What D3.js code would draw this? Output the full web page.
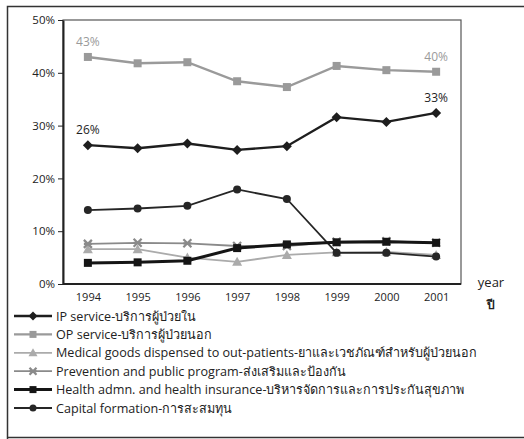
<!DOCTYPE html>
<html><head><meta charset="utf-8">
<script src="https://cdn.jsdelivr.net/npm/d3@7"></script>
<style>
body{margin:0;background:#fff;}
text{font-family:"Open Sans","Noto Sans",sans-serif;}
</style></head>
<body><svg id="c" width="524" height="439"></svg>
<script>
const years = ["1994","1995","1996","1997","1998","1999","2000","2001"];
const yTicks = [0,10,20,30,40,50];
const ipService = [26.3,25.7,26.6,25.4,26.1,31.6,30.7,32.4];
const opService = [43.0,41.8,42.0,38.4,37.3,41.3,40.5,40.2];
const medicalGoods = [6.6,6.6,5.0,4.2,5.5,6.0,6.1,5.5];
const prevention = [7.6,7.8,7.7,7.2,7.2,8.0,8.1,7.8];
const healthAdmin = [4.0,4.1,4.4,6.8,7.5,7.9,8.0,7.8];
const capitalFormation = [14.0,14.3,14.8,17.9,16.1,5.9,5.9,5.2];
const seriesNames = [
 "IP service-บริการผู้ป่วยใน",
 "OP service-บริการผู้ป่วยนอก",
 "Medical goods dispensed to out-patients-ยาและเวชภัณฑ์สำหรับผู้ป่วยนอก",
 "Prevention and public program-ส่งเสริมและป้องกัน",
 "Health admn. and health insurance-บริหารจัดการและการประกันสุขภาพ",
 "Capital formation-การสะสมทุน"
];
const annotations = [
 {series:1, i:0, text:"43%"},
 {series:0, i:0, text:"26%"},
 {series:1, i:7, text:"40%"},
 {series:0, i:7, text:"33%"}
];
const styles = [
 {color:"#1e1e1e", w:2.4, marker:"diamond"},
 {color:"#9a9a9a", w:2.4, marker:"square"},
 {color:"#ababab", w:1.8, marker:"triangle"},
 {color:"#8a8a8a", w:1.8, marker:"cross"},
 {color:"#151515", w:3, marker:"square"},
 {color:"#262626", w:1.8, marker:"circle"}
];
const data = [ipService,opService,medicalGoods,prevention,healthAdmin,capitalFormation];
const svg = d3.select("#c");
svg.append("path").attr("d","M7.5,439 V6.5 H524 M7.5,437.5 H524").attr("fill","none").attr("stroke","#333").attr("stroke-width",1.5);

const L=63,R=461,T=20,B=284;
const x = d3.scalePoint().domain(years).range([L,R]).padding(0.5);
const y = d3.scaleLinear().domain([0,50]).range([B,T]);

svg.append("rect").attr("x",L).attr("y",T).attr("width",R-L).attr("height",B-T)
 .attr("fill","none").attr("stroke","#555").attr("stroke-width",1.2);

const ya = svg.append("g").attr("transform",`translate(${L},0)`)
 .call(d3.axisLeft(y).tickValues(yTicks).tickFormat(d=>d+"%").tickSize(5).tickSizeOuter(0));
ya.select(".domain").attr("stroke","#222").attr("stroke-width",2);
ya.selectAll(".tick line").attr("stroke","#222");
ya.selectAll("text").attr("font-size",11.5).attr("fill","#222");

const xa = svg.append("g").attr("transform",`translate(0,${B})`)
 .call(d3.axisBottom(x).tickSize(0).tickPadding(9));
xa.select(".domain").attr("stroke","#222").attr("stroke-width",2).attr("d",`M${L},0H${R}`);
xa.selectAll("text").attr("font-size",11).attr("fill","#222");

svg.append("text").attr("x",491).attr("y",287).attr("text-anchor","middle").attr("font-size",13).attr("fill","#222").text("year");
svg.append("text").attr("x",491).attr("y",309).attr("text-anchor","middle").attr("font-size",12).attr("font-weight","bold").attr("fill","#222").text("ปี");

function marker(g, type, cx, cy, color, s){
  s = s||4;
  if(type==="circle") g.append("circle").attr("cx",cx).attr("cy",cy).attr("r",s).attr("fill",color);
  else if(type==="square") g.append("rect").attr("x",cx-s).attr("y",cy-s).attr("width",2*s).attr("height",2*s).attr("fill",color);
  else if(type==="diamond") g.append("path").attr("d",`M${cx},${cy-s-1}L${cx+s+1},${cy}L${cx},${cy+s+1}L${cx-s-1},${cy}Z`).attr("fill",color);
  else if(type==="triangle") g.append("path").attr("d",`M${cx},${cy-s-1}L${cx+s+1},${cy+s}L${cx-s-1},${cy+s}Z`).attr("fill",color);
  else if(type==="cross") g.append("path").attr("d",`M${cx-s},${cy-s}L${cx+s},${cy+s}M${cx+s},${cy-s}L${cx-s},${cy+s}M${cx-s},${cy}H${cx+s}`).attr("stroke",color).attr("stroke-width",2.2).attr("fill","none");
}

const line = d3.line().x((d,i)=>x(years[i])).y(d=>y(d));
const order=[1,2,3,5,4,0];
order.forEach(k=>{
  const st=styles[k];
  const g=svg.append("g");
  g.append("path").datum(data[k]).attr("d",line).attr("fill","none").attr("stroke",st.color).attr("stroke-width",st.w);
  data[k].forEach((v,i)=>marker(g,st.marker,x(years[i]),y(v),st.color,4));
});

annotations.forEach(a=>{
  svg.append("text").attr("x",x(years[a.i])).attr("y",y(data[a.series][a.i])-11)
   .attr("text-anchor","middle").attr("font-size",12)
   .attr("fill",styles[a.series].color).text(a.text);
});

const lg = svg.append("g");
seriesNames.forEach((n,k)=>{
  const yy = 316 + k*18.4;
  const st=styles[k];
  lg.append("line").attr("x1",14).attr("x2",52).attr("y1",yy).attr("y2",yy).attr("stroke",st.color).attr("stroke-width",st.w);
  marker(lg,st.marker,33,yy,st.color,3.5);
  lg.append("text").attr("x",56).attr("y",yy+4.5).attr("font-size",12.6).attr("fill","#222").text(n);
});
</script></body></html>
